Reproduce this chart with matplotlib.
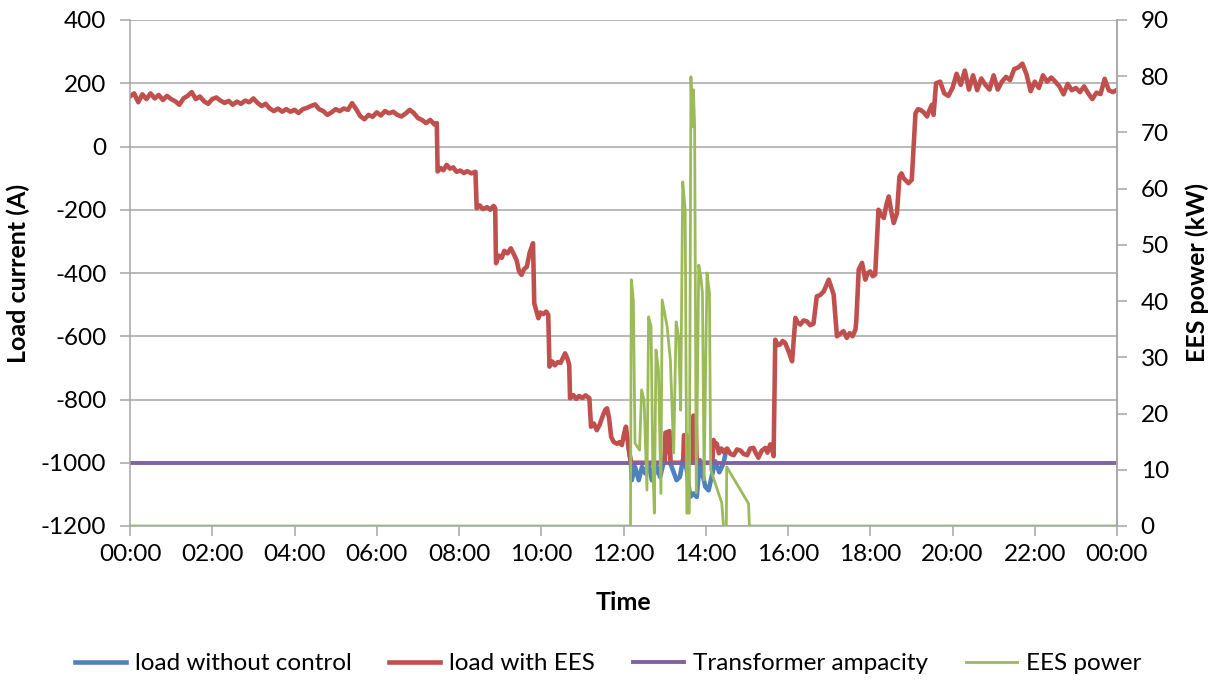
import matplotlib
matplotlib.use("Agg")
import matplotlib.pyplot as plt
import numpy as np

# load with EES (A): night hours sampled every 0.1 h from 00:00
morning_v = [158, 168, 140, 165, 150, 168, 152, 163, 147, 160, 150, 143, 132, 152, 160,
             172, 150, 158, 143, 135, 150, 155, 145, 138, 144, 132, 142, 135, 145, 140,
             152, 138, 128, 135, 120, 112, 120, 110, 118, 110, 116, 106, 118, 122, 128,
             133, 118, 112, 100, 108, 118, 112, 120, 116, 137, 118, 96, 86, 100, 94,
             108, 98, 112, 105, 110, 100, 95, 104, 116, 106, 90, 84, 74, 84, 70]
morning_t = np.round(np.arange(len(morning_v)) * 0.1, 2)

# daytime part, irregular timestamps (h)
day_t = [7.46, 7.48, 7.55, 7.62, 7.70, 7.78, 7.86, 7.94, 8.03, 8.12, 8.20, 8.30, 8.40, 8.43,
         8.50, 8.58, 8.68, 8.76, 8.84, 8.88, 8.90, 8.97, 9.04, 9.10, 9.18, 9.26, 9.33, 9.40,
         9.46, 9.52, 9.58, 9.65, 9.72, 9.80, 9.83, 9.88, 9.93, 9.98, 10.05, 10.12, 10.17,
         10.20, 10.27, 10.33, 10.40, 10.47, 10.53, 10.58, 10.64, 10.68, 10.70, 10.78, 10.85,
         10.92, 11.00, 11.08, 11.17, 11.21, 11.28, 11.35, 11.42, 11.50, 11.56, 11.60, 11.65,
         11.70, 11.76, 11.84, 11.90, 11.96, 12.02, 12.06, 12.12, 12.18, 13.00, 13.02, 13.12,
         13.14, 13.45, 13.47, 13.53, 13.55, 13.68, 13.70, 13.76, 13.78, 14.16, 14.19, 14.24,
         14.27, 14.32, 14.38, 14.45, 14.52, 14.60, 14.68, 14.76, 14.85, 14.92, 15.01, 15.08,
         15.16, 15.22, 15.28, 15.36, 15.45, 15.50, 15.57, 15.62, 15.65, 15.69, 15.75, 15.81,
         15.87, 15.93, 16.02, 16.10, 16.18, 16.24, 16.30, 16.38, 16.46, 16.54, 16.62, 16.70,
         16.78, 16.87, 16.93, 16.99, 17.05, 17.11, 17.19, 17.27, 17.35, 17.43, 17.50, 17.57,
         17.64, 17.66, 17.72, 17.80, 17.88, 17.94, 18.00, 18.06, 18.12, 18.20, 18.26, 18.33,
         18.39, 18.45, 18.51, 18.57, 18.65, 18.71, 18.76, 18.81, 18.87, 18.93, 19.01, 19.10,
         19.16, 19.22, 19.30, 19.38, 19.44, 19.50, 19.54]
day_v = [74, -79, -68, -75, -58, -70, -66, -80, -76, -84, -78, -85, -80, -195,
         -186, -198, -192, -200, -188, -195, -369, -345, -352, -330, -338, -322, -340, -359,
         -395, -406, -388, -380, -335, -306, -496, -520, -543, -525, -530, -522, -532,
         -696, -680, -692, -682, -684, -668, -654, -672, -691, -796, -786, -798,
         -789, -795, -787, -796, -886, -876, -897, -880, -850, -832, -828, -860,
         -918, -934, -940, -935, -944, -905, -886, -949, -1000, -1000, -905, -900,
         -1000, -1000, -913, -913, -1000, -1000, -851, -886, -1000, -1000, -928, -945,
         -940, -970, -955, -968, -955, -972, -976, -958, -962, -972, -976, -955,
         -953, -970, -984, -962, -953, -968, -942, -960, -979, -611, -628, -626,
         -615, -621, -650, -679, -542, -558, -563, -550, -553, -565, -560, -474,
         -470, -458, -440, -421, -445, -468, -600, -592, -584, -605, -590, -600,
         -579, -553, -389, -368, -421, -400, -395, -410, -405, -200, -215, -226,
         -185, -158, -205, -242, -211, -95, -85, -100, -108, -116, -105, 105,
         118, 116, 108, 95, 115, 132, 100]

# evening hours sampled every 0.1 h from 19:36
evening_v = [200, 205, 168, 160, 185, 230, 195, 240, 180, 225, 178, 215, 195, 180, 225,
             180, 205, 220, 210, 245, 250, 262, 228, 175, 205, 185, 225, 205, 218, 205,
             190, 165, 198, 178, 185, 172, 190, 168, 150, 170, 166, 214, 178, 172, 179]
evening_t = np.round(19.6 + np.arange(len(evening_v)) * 0.1, 2)

red_t = np.concatenate([morning_t, day_t, evening_t])
red_v = np.concatenate([morning_v, day_v, evening_v])

# load without control, only where it differs from the controlled one
blue_t = [12.12, 12.18, 12.20, 12.28, 12.37, 12.45, 12.53, 12.61, 12.69, 12.81, 12.89, 12.97,
          13.05, 13.12, 13.14, 13.20, 13.29, 13.37, 13.46, 13.54, 13.62, 13.70, 13.78, 13.86,
          13.90, 13.99, 14.07, 14.15, 14.23, 14.33, 14.43, 14.50]
blue_v = [-949, -1000, -1055, -1013, -1055, -1013, -1034, -1002, -1055, -1013, -1045, -1002,
          -950, -939, -1002, -1023, -1055, -1045, -981, -1023, -1108, -1097, -1108, -992,
          -1023, -1076, -1087, -1040, -995, -1030, -1002, -960]

ampacity = -1000

# EES power in kW
ees_t = [0, 12.17, 12.19, 12.24, 12.28, 12.39, 12.44, 12.50, 12.57, 12.61, 12.67, 12.71,
         12.75, 12.79, 12.85, 12.91, 12.94, 13.06, 13.14, 13.22, 13.28, 13.34, 13.39, 13.44,
         13.50, 13.54, 13.60, 13.64, 13.67, 13.70, 13.73, 13.77, 13.83, 13.88, 13.92, 13.96,
         14.03, 14.09, 14.12, 14.39, 14.43, 14.50, 14.51, 15.04, 15.06, 24]
ees_v = [0, 0, 43.8, 40.2, 14.7, 13.5, 24.2, 22.4, 6.4, 37.2, 35.5, 11.7,
         2.3, 31.3, 27.7, 5.8, 40.2, 35.5, 29.5, 13.0, 36.3, 33.6, 20.6, 61.2,
         56.2, 2.3, 2.3, 79.9, 71.0, 77.6, 71.0, 5.9, 46.4, 44.3, 41.4, 8.2,
         45.0, 41.4, 10.0, 4.1, 0, 0, 10.5, 4.0, 0, 0]

tick_hours = list(range(0, 25, 2))
tick_labels = ["%02d:00" % (h % 24) for h in tick_hours]

plt.rcParams['font.family'] = ['Lato', 'DejaVu Sans']
plt.rcParams['axes.unicode_minus'] = False
grey = "#a6a6a6"

fig = plt.figure(figsize=(12.16, 6.8), dpi=100)
ax = fig.add_axes([130 / 1216, 1 - 526 / 680, 987 / 1216, 506 / 680])

ax.plot(blue_t, blue_v, color="#4F81BD", lw=3.3, label="load without control", solid_joinstyle="round")
ax.plot(red_t, red_v, color="#C0504D", lw=3.3, label="load with EES", solid_joinstyle="round")
ax.axhline(ampacity, color="#8064A2", lw=2.8, label="Transformer ampacity")

ax.set_xlim(0, 24)
ax.set_ylim(-1200, 400)
ax.set_yticks(np.arange(-1200, 401, 200))
ax.set_xticks(tick_hours)
ax.set_xticklabels(tick_labels)
ax.grid(axis="y", color=grey, lw=1.1)
ax.set_axisbelow(True)
ax.spines["top"].set_visible(False)
for s in ["left", "right", "bottom"]:
    ax.spines[s].set_color(grey)
    ax.spines[s].set_linewidth(1.1)
ax.tick_params(axis="both", colors=grey, labelcolor="black", labelsize=17.5, length=7, width=1.1)
ax.tick_params(axis="x", pad=6)
ax.tick_params(axis="y", pad=10)
ax.set_xlabel("Time", fontsize=18, fontweight="bold", labelpad=19)
ax.set_ylabel("Load current (A)", fontsize=18, fontweight="bold", labelpad=8)

ax2 = ax.twinx()
ax2.plot(ees_t, ees_v, color="#9BBB59", lw=2.0, label="EES power")
ax2.set_ylim(0, 90)
ax2.set_yticks(np.arange(0, 91, 10))
ax2.spines["top"].set_visible(False)
ax2.spines["left"].set_visible(False)
ax2.spines["bottom"].set_visible(False)
ax2.spines["right"].set_color(grey)
ax2.spines["right"].set_linewidth(1.1)
ax2.tick_params(axis="y", colors=grey, labelcolor="black", labelsize=17.5, length=7, width=1.1, pad=10)
ax2.set_ylabel("EES power (kW)", fontsize=18, fontweight="bold", labelpad=12)

handles = ax.get_lines() + ax2.get_lines()
fig.legend(handles, [h.get_label() for h in handles], loc="center", bbox_to_anchor=(0.5, 0.024),
           ncol=4, frameon=False, fontsize=17.5, handlelength=2.1, handletextpad=0.37,
           columnspacing=1.56)

fig.savefig("out.png", dpi=100)
